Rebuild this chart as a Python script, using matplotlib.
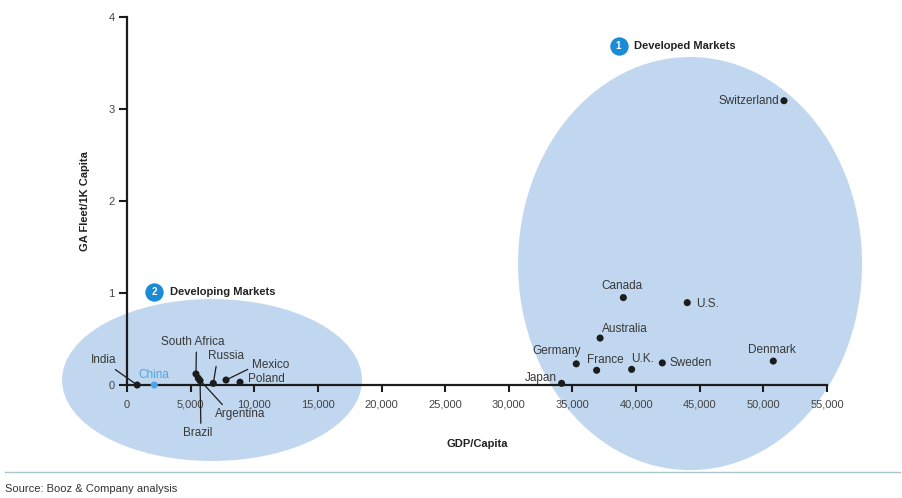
import matplotlib.pyplot as plt
from matplotlib.patches import Ellipse
from matplotlib.lines import Line2D
from matplotlib.ticker import StrMethodFormatter

plt.rcParams['font.family'] = ['Liberation Sans', 'DejaVu Sans']

# GDP per capita (USD) vs general aviation fleet per 1,000 inhabitants
countries = ['India', 'China', 'South Africa', 'Argentina', 'Brazil', 'Russia',
             'Mexico', 'Poland', 'Japan', 'Germany', 'France', 'Australia',
             'Canada', 'U.K.', 'Sweden', 'U.S.', 'Denmark', 'Switzerland']
gdp = [800, 2140, 5420, 5600, 5740, 6780, 7780, 8880, 34150, 35300, 36900,
       37170, 39000, 39650, 42060, 44020, 50780, 51620]
fleet = [0.0, 0.0, 0.12, 0.073, 0.047, 0.018, 0.054, 0.03, 0.018, 0.23,
         0.16, 0.51, 0.95, 0.17, 0.24, 0.895, 0.26, 3.09]

x_ticks = list(range(0, 55001, 5000))
y_ticks = [0, 1, 2, 3, 4]

# label placement: offset in points, alignment, leader-line anchor on text
labels = {
    'India':        ((-24, 18), 'center', (0.75, 0)),
    'China':        ((0, 7.5), 'center', None),
    'South Africa': ((-2, 23), 'center', (0.55, 0)),
    'Argentina':    ((30, -26), 'center', (0.22, 1)),
    'Brazil':       ((-1.5, -38), 'center', (0.6, 1)),
    'Russia':       ((9, 19.5), 'center', (0.25, 0)),
    'Mexico':       ((18.5, 10.8), 'left', (0, 0.3)),
    'Poland':       ((5.5, 2.4), 'left', None),
    'Japan':        ((-3.6, 3.6), 'right', None),
    'Germany':      ((-13.8, 9.6), 'center', None),
    'France':       ((-7.2, 7.7), 'left', None),
    'Australia':    ((1.4, 6.8), 'left', None),
    'Canada':       ((-0.7, 8.6), 'center', None),
    'U.K.':         ((-0.5, 7.2), 'left', None),
    'Sweden':       ((5.5, 0), 'left', None),
    'U.S.':         ((6.5, -1), 'left', None),
    'Denmark':      ((-1.2, 7.9), 'center', None),
    'Switzerland':  ((-3.6, 0), 'right', None),
}

dark = '#1c1c1c'
china_blue = '#4aa6e4'
badge_blue = '#1b8bd6'
fill_blue = '#c1d7ef'

fig = plt.figure(figsize=(9.02, 4.98), dpi=100)
ax = fig.add_axes([0, 0, 1, 1])
ax.set_xlim(-9978.6, 60892.9)
ax.set_ylim(-1.2283, 4.1848)
ax.patch.set_visible(False)

# market clusters
ax.add_patch(Ellipse((6680, 0.054), 23570, 1.76, color=fill_blue, lw=0, zorder=1))
ax.add_patch(Ellipse((44240, 1.32), 27030, 4.49, color=fill_blue, lw=0, zorder=1))

colors = [china_blue if c == 'China' else dark for c in countries]
ax.scatter(gdp, fleet, s=26, c=colors, zorder=4, linewidths=0)

for name, x, y in zip(countries, gdp, fleet):
    offset, ha, rel = labels[name]
    col = china_blue if name == 'China' else '#383838'
    arrow = None
    if rel is not None:
        arrow = dict(arrowstyle='-', color=dark, lw=0.9, relpos=rel,
                     shrinkA=1, shrinkB=2)
    ax.annotate(name, (x, y), xytext=offset, textcoords='offset points',
                ha=ha, va='center', fontsize=8.5, color=col,
                arrowprops=arrow, zorder=5)

# numbered badges
for num, (bx, by), title in [('1', (38620, 3.685), 'Developed Markets'),
                             ('2', (2120, 1.016), 'Developing Markets')]:
    ax.scatter([bx], [by], s=175, color=badge_blue, zorder=5, linewidths=0)
    ax.text(bx, by, num, color='white', fontsize=7, fontweight='bold',
            ha='center', va='center', zorder=6)
    ax.annotate(title, (bx, by), xytext=(11.5, 0), textcoords='offset points',
                ha='left', va='center', fontsize=8, fontweight='bold',
                color='#222222')

# axes through the origin
for side in ['top', 'right']:
    ax.spines[side].set_visible(False)
ax.spines['left'].set_position(('data', 0))
ax.spines['bottom'].set_position(('data', 0))
ax.spines['left'].set_bounds(0, 4)
ax.spines['bottom'].set_bounds(0, 55000)
for side in ['left', 'bottom']:
    ax.spines[side].set_linewidth(1.6)
    ax.spines[side].set_color(dark)
    ax.spines[side].set_zorder(3)

ax.set_xticks(x_ticks)
ax.set_yticks(y_ticks)
ax.xaxis.set_major_formatter(StrMethodFormatter('{x:,.0f}'))
ax.tick_params(axis='x', direction='out', length=5, width=1.5, color=dark,
               labelsize=8, labelcolor='#444444', pad=5.5)
ax.tick_params(axis='y', direction='out', length=6, width=1.5, color=dark,
               labelsize=8, labelcolor='#444444', pad=3)

ax.text(0.5288, 0.1084, 'GDP/Capita', transform=ax.transAxes, ha='center',
        va='center', fontsize=8, fontweight='bold', color='#222222')
ax.text(0.0942, 0.5964, 'GA Fleet/1K Capita', transform=ax.transAxes,
        rotation=90, ha='center', va='center', fontsize=8, fontweight='bold',
        color='#222222')

# source footer
fig.add_artist(Line2D([5 / 902, 900 / 902], [1 - 472 / 498] * 2,
                      color='#a9c6ca', lw=1))
fig.text(5 / 902, 1 - 489 / 498, 'Source: Booz & Company analysis',
         fontsize=8, color='#333333', ha='left', va='center')

fig.savefig('out.png', dpi=100)
